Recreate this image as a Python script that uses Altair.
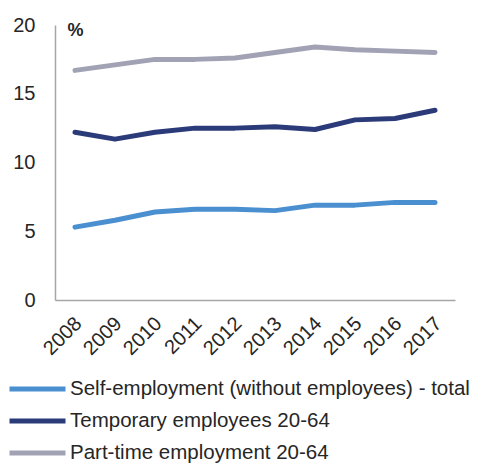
import altair as alt
import pandas as pd

years = ["2008", "2009", "2010", "2011", "2012", "2013", "2014", "2015", "2016", "2017"]
series = [
    "Self-employment (without employees) - total",
    "Temporary employees 20-64",
    "Part-time employment 20-64",
]
self_employment = [5.3, 5.8, 6.4, 6.6, 6.6, 6.5, 6.9, 6.9, 7.1, 7.1]
temporary = [12.2, 11.7, 12.2, 12.5, 12.5, 12.6, 12.4, 13.1, 13.2, 13.8]
part_time = [16.7, 17.1, 17.5, 17.5, 17.6, 18.0, 18.4, 18.2, 18.1, 18.0]
colors = ["#4a8fd0", "#2b3a78", "#a1a3b4"]
y_ticks = [0, 5, 10, 15, 20]

rows = []
for name, vals in zip(series, [self_employment, temporary, part_time]):
    for y, v in zip(years, vals):
        rows.append({"year": y, "value": v, "series": name})
df = pd.DataFrame(rows)

FONT = "Liberation Sans"

chart = alt.Chart(df).mark_line(strokeWidth=5, strokeCap="round", strokeJoin="round").encode(
    x=alt.X(
        "year:O",
        scale=alt.Scale(type="point", padding=0.5),
        axis=alt.Axis(
            title=None,
            labelAngle=-45,
            labelFontSize=20,
            labelFont=FONT,
            labelColor="#262626",
            ticks=False,
            labelPadding=13,
            labelOffset=-4,
            domainColor="#a6a6a6",
            domainWidth=1.5,
            grid=False,
        ),
    ),
    y=alt.Y(
        "value:Q",
        scale=alt.Scale(domain=[0, 20]),
        axis=alt.Axis(
            values=y_ticks,
            title="%",
            titleAngle=0,
            titleX=20,
            titleY=5,
            titleAlign="center",
            titleBaseline="middle",
            titleFontSize=18,
            titleFontWeight="bold",
            titleFont=FONT,
            titleColor="#262626",
            labelFontSize=20,
            labelFont=FONT,
            labelColor="#262626",
            ticks=False,
            labelPadding=20,
            domainColor="#a6a6a6",
            domainWidth=1.5,
            grid=False,
        ),
    ),
    color=alt.Color(
        "series:N",
        sort=series,
        scale=alt.Scale(domain=series, range=colors),
        legend=alt.Legend(
            title=None,
            orient="none",
            legendX=-48,
            legendY=354,
            direction="vertical",
            symbolType="stroke",
            symbolSize=3136,
            symbolStrokeWidth=5,
            clipHeight=20,
            rowPadding=11,
            labelFontSize=20.5,
            labelFont=FONT,
            labelColor="#262626",
            labelOffset=2,
            labelLimit=600,
            padding=0,
        ),
    ),
).properties(
    width=400,
    height=275,
    autosize=alt.AutoSizeParams(type="none"),
    padding={"left": 47, "top": 17, "right": 23, "bottom": 163},
).configure_view(stroke=None)

chart.save("out.html", embed_options={"renderer": "svg", "actions": False})
